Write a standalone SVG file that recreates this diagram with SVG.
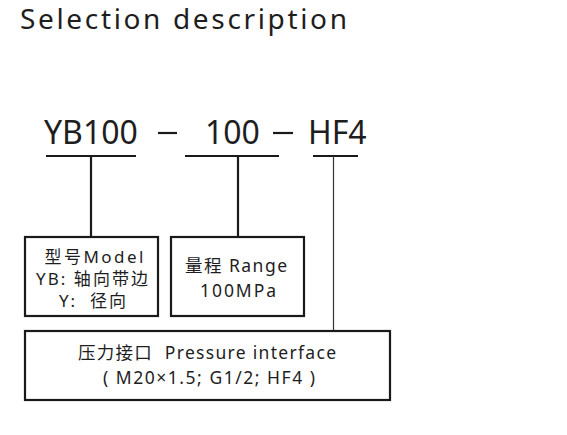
<svg xmlns="http://www.w3.org/2000/svg" width="567" height="435" viewBox="0 0 567 435">
<style>
text{font-family:"Noto Sans","Open Sans","Noto Sans CJK SC",sans-serif;fill:#1e1e1e;}
.t{font-size:28px;}
.code{font-size:32px;}
.lbl{font-size:17.5px;text-anchor:middle;}
.sm{font-size:17px;}
.box{fill:#fff;stroke:#1a1a1a;stroke-width:2.2;}
.ln{stroke:#1a1a1a;stroke-width:2.2;fill:none;}
.thin{stroke:#333;stroke-width:1.2;fill:none;}
</style>
<rect width="567" height="435" fill="#fff"/>
<text class="t" x="20" y="29" textLength="327">Selection description</text>
<g id="code">
<text class="code" x="44" y="144">YB100</text>
<text class="code" x="205" y="144">100</text>
<text class="code" x="308" y="144">HF4</text>
<line class="ln" x1="158" y1="133" x2="177" y2="133" stroke-width="2.6"/>
<line class="ln" x1="273" y1="133" x2="293" y2="133" stroke-width="2.6"/>
</g>
<g id="connectors">
<line class="ln" x1="46" y1="156" x2="136" y2="156"/>
<line class="ln" x1="91" y1="156" x2="91" y2="237"/>
<line class="ln" x1="185" y1="156" x2="279" y2="156"/>
<line class="ln" x1="238" y1="156" x2="238" y2="237"/>
<line class="ln" x1="313" y1="156" x2="358" y2="156"/>
<line class="thin" x1="333.5" y1="156" x2="333.5" y2="331"/>
</g>
<g id="model">
<rect class="box" x="25" y="237" width="133" height="79"/>
<text class="lbl sm" x="94" y="263" textLength="99">型号Model</text>
<text class="lbl sm" x="92" y="285" textLength="112">YB: 轴向带边</text>
<text class="lbl sm" x="92.5" y="307" textLength="67" xml:space="preserve">Y:  径向</text>
</g>
<g id="range">
<rect class="box" x="171" y="237" width="133" height="79"/>
<text class="lbl" x="236" y="272" textLength="102">量程 Range</text>
<text class="lbl" x="238" y="297" textLength="76">100MPa</text>
</g>
<g id="interface">
<rect class="box" x="25" y="331" width="365" height="69"/>
<text class="lbl" x="207" y="359" textLength="258" xml:space="preserve">压力接口  Pressure interface</text>
<text class="lbl" x="209" y="384" textLength="212">( M20×1.5; G1/2; HF4 )</text>
</g>
</svg>
